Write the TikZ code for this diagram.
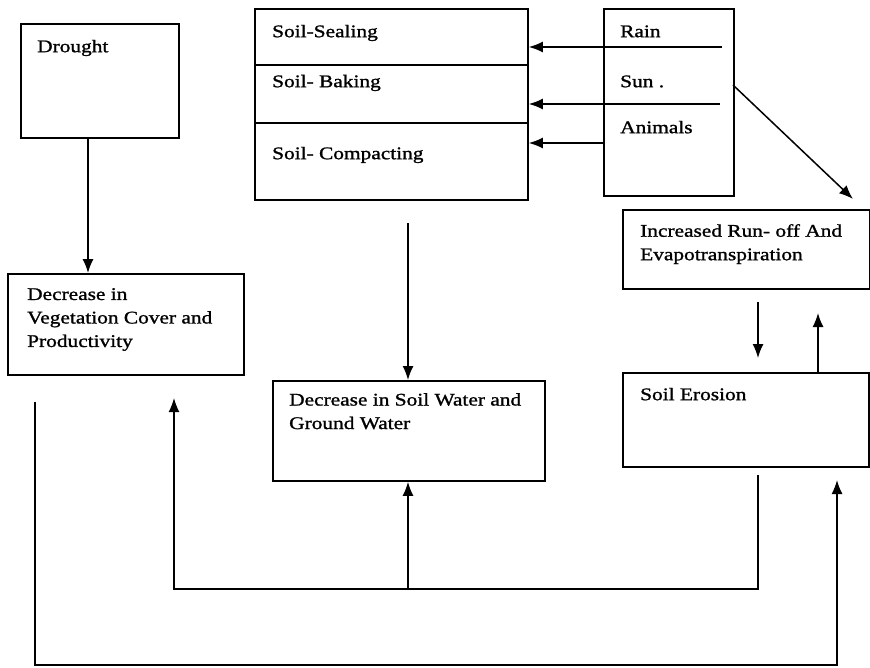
\documentclass[tikz,border=0pt]{standalone}
\usepackage{fontspec}
\setmainfont{Liberation Serif}[FakeStretch=1.2,FakeBold=1.2]
\usetikzlibrary{arrows.meta}
\tikzset{
  box/.style={draw, line width=1.8pt, inner sep=0pt, anchor=north west},
  txt/.style={anchor=north west, inner sep=0pt, align=left,
    font=\fontsize{17.8}{23.5}\selectfont, execute at begin node={\rule{0pt}{14pt}}},
  arr/.style={line width=1.5pt, -{Latex[length=14pt,width=11pt]}},
}
\begin{document}
\begin{tikzpicture}[x=1pt,y=-1pt]
\useasboundingbox[fill=white] (0,0) rectangle (870,667);
% boxes
\node[box, minimum width=158pt, minimum height=114pt] (drought) at (20,23) {};
\node[box, minimum width=236pt, minimum height=101pt] (veg) at (7,273) {};
\node[box, minimum width=273pt, minimum height=191pt] (soil) at (254,8) {};
\node[box, minimum width=130pt, minimum height=187pt] (agents) at (603,8) {};
\node[box, minimum width=247pt, minimum height=79pt] (runoff) at (622,209) {};
\node[box, minimum width=246pt, minimum height=94pt] (erosion) at (622,372) {};
\node[box, minimum width=272pt, minimum height=100pt] (water) at (272,380) {};
% dividers of the soil box
\draw[line width=1.8pt] (254,65) -- (527,65);
\draw[line width=1.8pt] (254,123) -- (527,123);
% texts
\node[txt] (tdrought) at (37,38) {Drought};
\node[txt] (tveg) at (27,288) {Decrease in\\Vegetation Cover and\\Productivity};
\node[txt] (tseal) at (272,23) {Soil-Sealing};
\node[txt] (tbake) at (272,73) {Soil- Baking};
\node[txt] (tcomp) at (272,145) {Soil- Compacting};
\node[txt] (train) at (620,23) {Rain};
\node[txt] (tsun) at (620,73) {Sun .};
\node[txt] (tanim) at (620,119) {Animals};
\node[txt] (trunoff) at (640,224) {Increased Run- off And\\Evapotranspiration};
\node[txt] (terosion) at (640,386) {Soil Erosion};
\node[txt] (twater) at (289,393) {Decrease in Soil Water and\\Ground Water};
% coordinates for free ends
\coordinate (rainS) at (722,47);
\coordinate (sunS) at (720,104);
\coordinate (animS) at (603,143);
\coordinate (diagS) at (733,85);
\coordinate (diagE) at (853,199);
\coordinate (soilS) at (408,223);
\coordinate (rdS) at (758,302);
\coordinate (rdE) at (758,358);
\coordinate (ruE) at (818,313);
\coordinate (ebS) at (758,475);
\coordinate (bl) at (174,589);
\coordinate (br) at (758,589);
\coordinate (bm) at (408,589);
\coordinate (vegE) at (174,398);
\coordinate (oS) at (35,402);
\coordinate (ol) at (35,665);
\coordinate (or) at (837,665);
\coordinate (oE) at (837,480);
% connectors
\draw[arr] (rainS) -- (rainS -| soil.east);
\draw[arr] (sunS) -- (sunS -| soil.east);
\draw[arr] (animS) -- (animS -| soil.east);
\draw[arr] (diagS) -- (diagE);
\draw[arr] (drought.south -| 88,0) -- (veg.north -| 88,0);
\draw[arr] (soilS) -- (soilS |- water.north);
\draw[arr] (rdS) -- (rdE);
\draw[arr] (ruE |- erosion.north) -- (ruE);
\draw[arr] (ebS) -- (br) -- (bl) -- (vegE);
\draw[arr] (bm) -- (bm |- water.south);
\draw[arr] (oS) -- (ol) -- (or) -- (oE);
\end{tikzpicture}
\end{document}
